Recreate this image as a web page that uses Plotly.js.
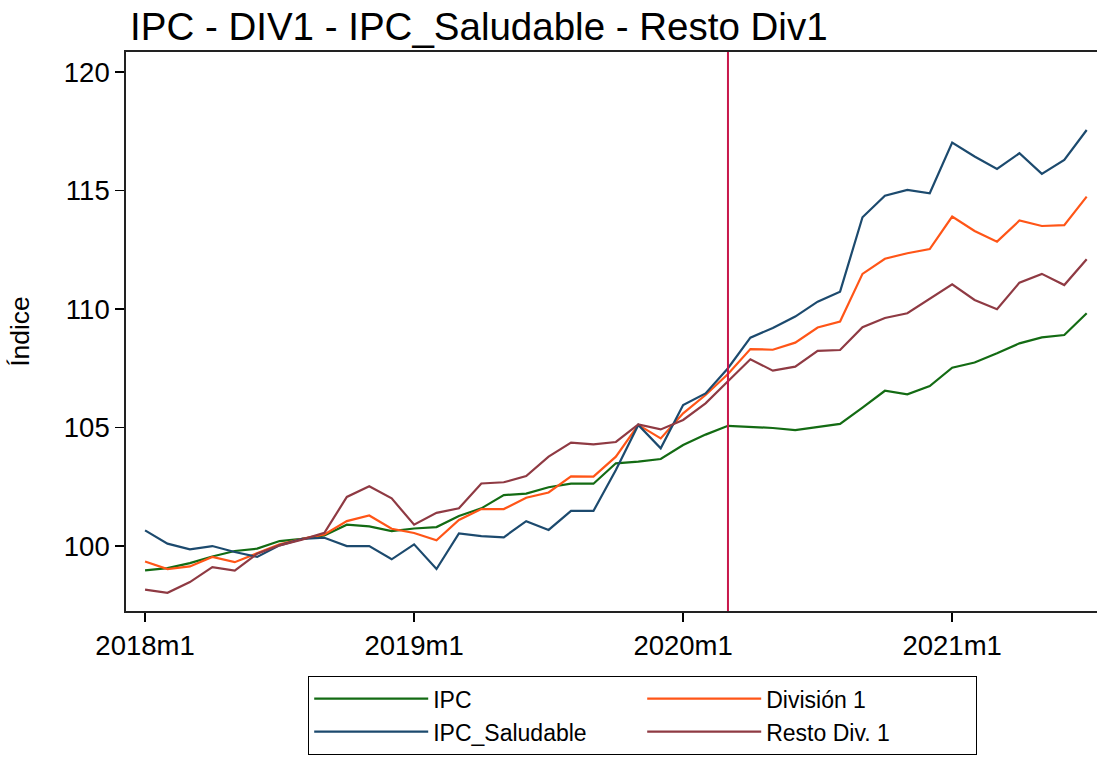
<!DOCTYPE html>
<html>
<head>
<meta charset="utf-8">
<script src="https://cdn.plot.ly/plotly-3.0.1.min.js"></script>
<style>
  html, body { margin: 0; padding: 0; background: #ffffff; }
  #chart { width: 1097px; height: 769px; }
</style>
</head>
<body>
<div id="chart"></div>
<script>
// Months (categories)
const months = [
  '2018m1','2018m2','2018m3','2018m4','2018m5','2018m6','2018m7','2018m8','2018m9','2018m10','2018m11','2018m12',
  '2019m1','2019m2','2019m3','2019m4','2019m5','2019m6','2019m7','2019m8','2019m9','2019m10','2019m11','2019m12',
  '2020m1','2020m2','2020m3','2020m4','2020m5','2020m6','2020m7','2020m8','2020m9','2020m10','2020m11','2020m12',
  '2021m1','2021m2','2021m3','2021m4','2021m5','2021m6','2021m7'
];

// Series values
const ipc = [
  98.97, 99.07, 99.28, 99.56, 99.79, 99.89, 100.21, 100.30, 100.45, 100.90, 100.83, 100.63,
  100.74, 100.80, 101.27, 101.59, 102.15, 102.21, 102.48, 102.63, 102.63, 103.49, 103.56, 103.67,
  104.26, 104.70, 105.07, 105.03, 104.98, 104.89, 105.01, 105.15, 105.84, 106.55, 106.40, 106.75,
  107.52, 107.74, 108.13, 108.55, 108.80, 108.90, 109.82
];
const division1 = [
  99.35, 99.03, 99.14, 99.54, 99.32, 99.68, 100.07, 100.30, 100.49, 101.05, 101.29, 100.73,
  100.55, 100.24, 101.10, 101.56, 101.56, 102.04, 102.26, 102.94, 102.93, 103.77, 105.11, 104.54,
  105.60, 106.37, 107.26, 108.31, 108.28, 108.58, 109.22, 109.47, 111.48, 112.12, 112.35, 112.53,
  113.90, 113.29, 112.84, 113.73, 113.50, 113.54, 114.74
];
const ipcSaludable = [
  100.66, 100.10, 99.86, 100.00, 99.75, 99.54, 100.03, 100.30, 100.35, 100.00, 100.00, 99.44,
  100.07, 99.03, 100.53, 100.42, 100.37, 101.05, 100.68, 101.48, 101.48, 103.21, 105.11, 104.12,
  105.95, 106.44, 107.50, 108.79, 109.20, 109.68, 110.31, 110.73, 113.87, 114.78, 115.02, 114.88,
  117.02, 116.43, 115.91, 116.57, 115.70, 116.29, 117.55
];
const restoDiv1 = [
  98.16, 98.03, 98.48, 99.11, 98.96, 99.68, 100.03, 100.27, 100.56, 102.07, 102.52, 102.01,
  100.90, 101.40, 101.59, 102.64, 102.69, 102.95, 103.77, 104.36, 104.29, 104.39, 105.13, 104.92,
  105.32, 106.02, 106.95, 107.88, 107.40, 107.57, 108.23, 108.27, 109.23, 109.62, 109.82, 110.42,
  111.04, 110.38, 109.99, 111.11, 111.48, 111.01, 112.10
];

const seriesNames = ['IPC', 'División 1', 'IPC_Saludable', 'Resto Div. 1'];
const xTickLabels = ['2018m1', '2019m1', '2020m1', '2021m1'];
const yTickValues = [100, 105, 110, 115, 120];
const eventMonth = '2020m3';

const colors = ['#136b13', '#ff5517', '#1c4a6e', '#8f3a43'];
const seriesData = [ipc, division1, ipcSaludable, restoDiv1];

const traces = seriesData.map((vals, k) => ({
  type: 'scatter',
  mode: 'lines',
  x: months,
  y: vals,
  name: seriesNames[k],
  line: { color: colors[k], width: 2.2 }
}));

const FONT = 'Liberation Sans, Arial, Helvetica, sans-serif';
const eventIdx = months.indexOf(eventMonth);

const layout = {
  width: 1097,
  height: 769,
  paper_bgcolor: '#ffffff',
  plot_bgcolor: '#ffffff',
  margin: { l: 126, r: 0, t: 52, b: 158 },
  font: { family: FONT, color: '#000000' },
  title: {
    text: 'IPC - DIV1 - IPC_Saludable - Resto Div1',
    font: { family: FONT, size: 38.5, color: '#000000' },
    x: 130 / 1097,
    xanchor: 'left',
    xref: 'container',
    y: 1 - 27 / 769,
    yanchor: 'middle',
    yref: 'container'
  },
  xaxis: {
    type: 'category',
    range: [-0.85, 42.46],
    tickmode: 'array',
    tickvals: xTickLabels,
    ticktext: xTickLabels,
    ticks: 'outside',
    ticklen: 9,
    tickwidth: 1.5,
    tickcolor: '#000000',
    tickfont: { family: FONT, size: 27.5, color: '#000000' },
    showline: true,
    linecolor: '#222222',
    linewidth: 1.8,
    mirror: true,
    showgrid: false,
    zeroline: false
  },
  yaxis: {
    range: [97.26, 120.84],
    tickmode: 'array',
    tickvals: yTickValues,
    ticktext: yTickValues.map(String),
    ticks: 'outside',
    ticklen: 9,
    tickwidth: 1.5,
    tickcolor: '#000000',
    tickfont: { family: FONT, size: 27.5, color: '#000000' },
    showline: true,
    linecolor: '#222222',
    linewidth: 1.8,
    showgrid: false,
    zeroline: false,
    automargin: true,
    title: { text: 'Índice', font: { family: FONT, size: 26.5, color: '#000000' }, standoff: 26 }
  },
  shapes: [{
    type: 'line',
    xref: 'x', yref: 'paper',
    x0: eventIdx, x1: eventIdx, y0: 0, y1: 1,
    line: { color: '#c8174b', width: 2 }
  }],
  showlegend: true,
  legend: {
    orientation: 'h',
    x: (308 - 126) / 971,
    xanchor: 'left',
    y: -0.1163,
    yanchor: 'top',
    bordercolor: '#000000',
    borderwidth: 1.2,
    bgcolor: '#ffffff',
    itemwidth: 114,
    entrywidth: 204,
    font: { family: FONT, size: 23, color: '#000000' },
    traceorder: 'normal'
  }
};

Plotly.newPlot('chart', traces, layout, { displayModeBar: false, staticPlot: true });
</script>
</body>
</html>
